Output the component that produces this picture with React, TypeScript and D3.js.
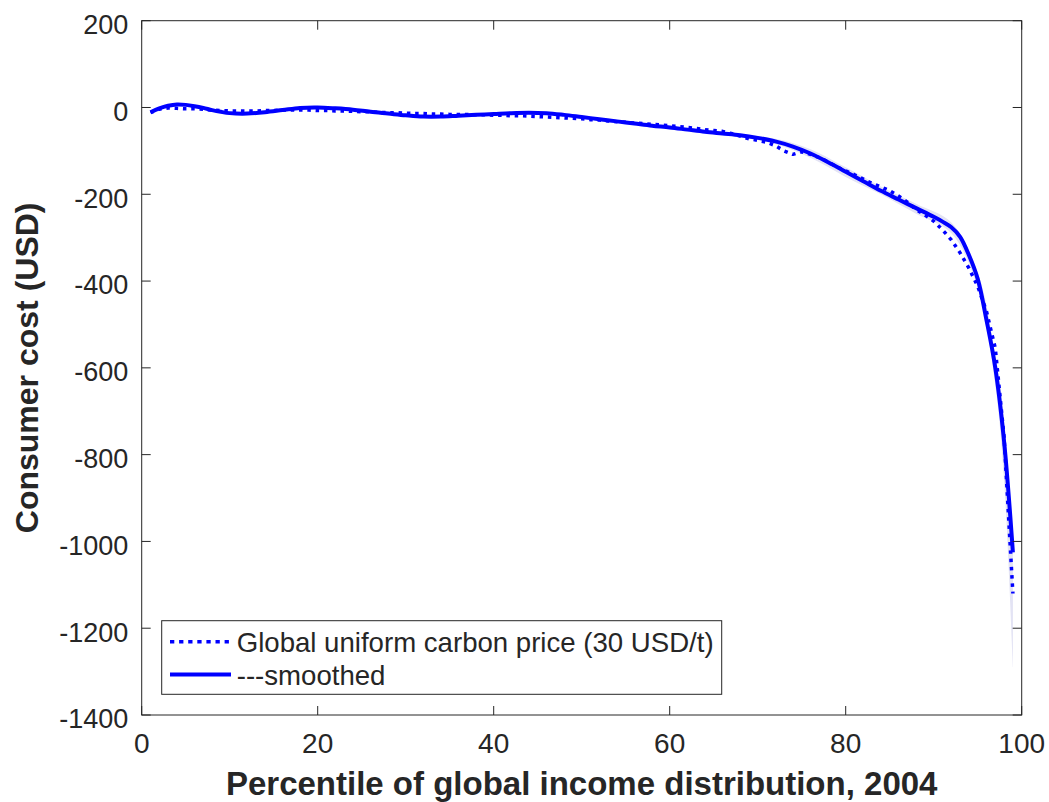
import React from "react";
import * as d3 from "d3";

// Raw series: percentile 1..99 (dotted)
const rawPercentiles: number[] = d3.range(1, 100);
const rawValues: number[] = [
  -12, -4, -1, -2, -3, -3, -4, -6, -7, -8,
  -8, -8, -8, -7, -7, -6, -6, -6, -6, -7,
  -7, -8, -8, -9, -10, -10, -11, -12, -12, -13,
  -14, -14, -15, -15, -16, -16, -16, -17, -17, -18,
  -18, -19, -19, -20, -21, -22, -23, -24, -25, -26,
  -28, -29, -31, -33, -34, -36, -37, -39, -40, -42,
  -44, -46, -48, -51, -53, -55, -60, -66, -72, -76,
  -80, -88, -100, -108, -102, -108, -116, -125, -137, -146,
  -155, -165, -175, -183, -192, -204, -218, -235, -248, -262,
  -282, -305, -335, -370, -412, -470, -555, -760, -1120,
];

// Smoothed series knots
const smoothPercentiles: number[] = [
  1, 2, 3, 4, 5, 6, 7, 8, 9, 10, 12, 14, 16, 18, 20, 22, 24, 26, 28, 30,
  32, 34, 36, 38, 40, 42, 44, 46, 48, 50, 52, 54, 56, 58, 60, 62, 64, 66, 68, 70,
  72, 74, 76, 78, 80, 82, 84, 86, 88, 90, 91, 92, 93, 94, 95, 96, 97, 98, 99,
];
const smoothValues: number[] = [
  -11, -2, 4, 7, 6, 3, -1, -6, -10, -13, -14, -11, -6, -1, 0, -2, -5, -10, -14, -18,
  -21, -21, -19, -17, -15, -13, -12, -13, -17, -22, -27, -32, -37, -42, -46, -51, -56, -60, -64, -70,
  -78, -90, -106, -126, -148, -170, -192, -212, -232, -252, -263, -276, -298, -340, -395, -490, -600, -770, -1025,
];

// Faint confidence band around the smoothed line (upper percentiles)
const bandPercentiles: number[] = [66, 72, 76, 80, 84, 88, 92, 95, 97, 98, 99];
const bandLower: number[] = [-62, -84, -116, -160, -200, -245, -290, -415, -640, -860, -1290];
const bandUpper: number[] = [-58, -72, -96, -138, -182, -222, -265, -380, -570, -720, -1000];

const xTicks: number[] = [0, 20, 40, 60, 80, 100];
const yTicks: number[] = [200, 0, -200, -400, -600, -800, -1000, -1200, -1400];

const legendLabels: string[] = ["Global uniform carbon price (30 USD/t)", "---smoothed"];

export default function App() {
  const W = 1049, H = 802;
  const left = 141.7, right = 1021.7, top = 20.7, bottom = 715;
  const x = d3.scaleLinear().domain([0, 100]).range([left, right]);
  const y = d3.scaleLinear().domain([-1400, 200]).range([bottom, top]);
  const axisColor = "#262626";
  const blue = "#0000ff";
  const font = "'Liberation Sans', Arial, Helvetica, sans-serif";
  const tickLen = 9;

  const rawLine = d3
    .line<number>()
    .x((_, i) => x(rawPercentiles[i]))
    .y((d) => y(d))(rawValues) as string;

  const smoothLine = d3
    .line<number>()
    .x((_, i) => x(smoothPercentiles[i]))
    .y((d) => y(d))
    .curve(d3.curveCatmullRom.alpha(0.5))(smoothValues) as string;

  const band = d3
    .area<number>()
    .x((_, i) => x(bandPercentiles[i]))
    .y0((_, i) => y(bandLower[i]))
    .y1((_, i) => y(bandUpper[i]))
    .curve(d3.curveCatmullRom.alpha(0.5))(bandPercentiles) as string;

  const legX = 161.7, legY = 620.7, legW = 560, legH = 73.6;

  return (
    <svg
      width={W}
      height={H}
      style={{ position: "absolute", left: 0, top: 0, background: "#fff" }}
      fontFamily={font}
    >
      <rect x={0} y={0} width={W} height={H} fill="#fff" />
      <defs>
        <clipPath id="plotClip">
          <rect x={left} y={top} width={right - left} height={bottom - top} />
        </clipPath>
      </defs>
      <g clipPath="url(#plotClip)">
        <path d={band} fill="#e3e3f4" stroke="none" />
        <path
          d={rawLine}
          fill="none"
          stroke={blue}
          strokeWidth={3.5}
          strokeDasharray="3.5,4.8"
          strokeLinejoin="round"
        />
        <path d={smoothLine} fill="none" stroke={blue} strokeWidth={4} strokeLinejoin="round" />
      </g>

      {/* axes box */}
      <rect x={left} y={top} width={right - left} height={bottom - top} fill="none" stroke={axisColor} strokeWidth={1} />

      {/* x ticks */}
      {xTicks.map((t) => (
        <g key={"x" + t}>
          <line x1={x(t)} x2={x(t)} y1={bottom} y2={bottom - tickLen} stroke={axisColor} />
          <line x1={x(t)} x2={x(t)} y1={top} y2={top + tickLen} stroke={axisColor} />
          <text x={x(t)} y={753} textAnchor="middle" fontSize={28} fill={axisColor}>
            {t}
          </text>
        </g>
      ))}

      {/* y ticks */}
      {yTicks.map((t) => (
        <g key={"y" + t}>
          <line x1={left} x2={left + tickLen} y1={y(t)} y2={y(t)} stroke={axisColor} />
          <line x1={right} x2={right - tickLen} y1={y(t)} y2={y(t)} stroke={axisColor} />
          <text x={128.3} y={y(t) + 13.4} textAnchor="end" fontSize={27} fill={axisColor}>
            {t}
          </text>
        </g>
      ))}

      {/* axis titles */}
      <text
        x={(left + right) / 2}
        y={795}
        textAnchor="middle"
        fontSize={33}
        fontWeight="bold"
        fill={axisColor}
      >
        Percentile of global income distribution, 2004
      </text>
      <text
        transform={`translate(38, ${(top + bottom) / 2}) rotate(-90)`}
        textAnchor="middle"
        fontSize={32}
        fontWeight="bold"
        fill={axisColor}
      >
        Consumer cost (USD)
      </text>

      {/* legend */}
      <rect x={legX} y={legY} width={legW} height={legH} fill="#fff" stroke={axisColor} strokeWidth={1} />
      <line
        x1={170}
        x2={229}
        y1={641.7}
        y2={641.7}
        stroke={blue}
        strokeWidth={3.5}
        strokeDasharray="4.3,4.8"
      />
      <line x1={170} x2={231} y1={674.5} y2={674.5} stroke={blue} strokeWidth={4} />
      <text x={236.7} y={651.5} fontSize={27.6} fill={axisColor}>
        {legendLabels[0]}
      </text>
      <text x={236.7} y={684.5} fontSize={27.6} fill={axisColor}>
        {legendLabels[1]}
      </text>
    </svg>
  );
}
